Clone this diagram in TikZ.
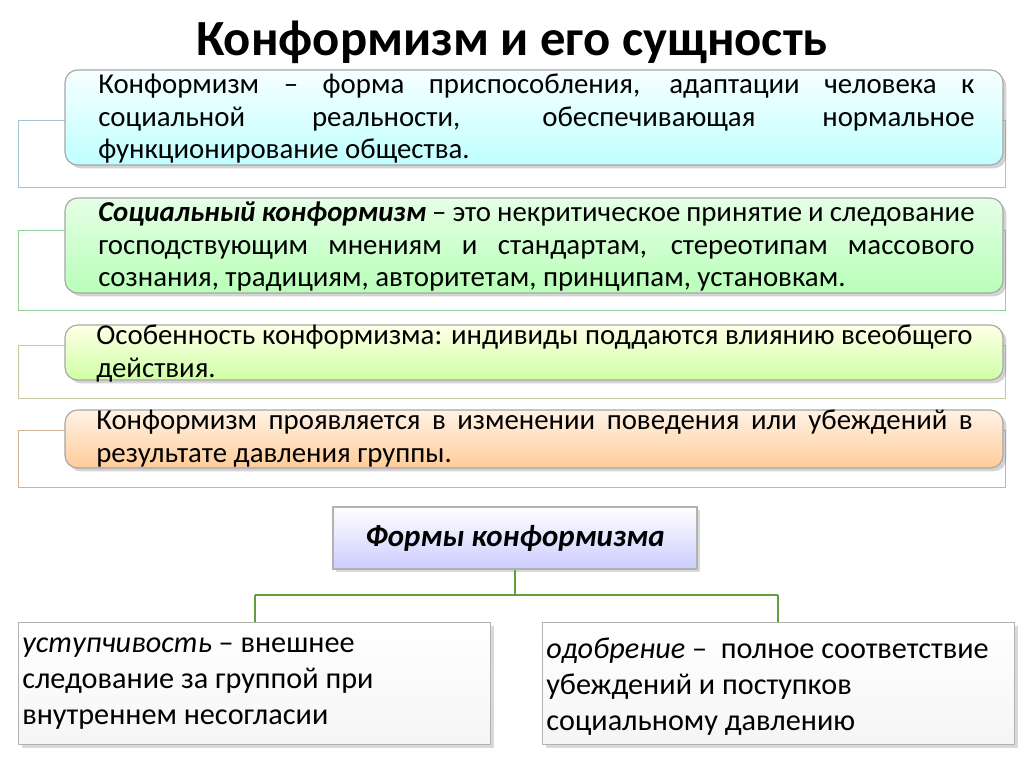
\documentclass[tikz,border=0pt]{standalone}
\usepackage{fontspec}
\setmainfont{Carlito}
\usetikzlibrary{positioning, shadows}
\tikzset{
    x=0.025cm, y=-0.025cm,
    frame/.style={draw=#1, line width=0.6pt}, % thin frame behind each box
    infobox/.style 2 args={rounded corners=9pt, draw=gray!70, line width=0.8pt,
        top color=#1, bottom color=#2, drop shadow={opacity=0.35}},
    infotext/.style={anchor=north west, text width=21.9cm, align=justify, inner sep=0pt,
        font=\fontsize{20.5}{23}\selectfont},
    formbox/.style={draw=gray!60, line width=0.8pt, top color=white, bottom color=green!6!gray!8,
        minimum width=11.8cm, minimum height=3.05cm, anchor=north west, drop shadow={opacity=0.3}},
    formtext/.style={anchor=north west, align=left, inner sep=0pt, font=\fontsize{21.5}{25.5}\selectfont},
    link/.style={draw=green!35!gray!70!olive, line width=1.5pt},
}
\begin{document}
\begin{tikzpicture}
\useasboundingbox (0,0) rectangle (1024,767);
\node[font=\fontsize{36}{40}\bfseries] (title) at (512,42) {Конформизм и его сущность};
% frames
\draw[frame=cyan!40!gray!60] (18,120) rectangle (1005,187);
\draw[frame=green!40!gray!60] (18,230) rectangle (1005,310);
\draw[frame=olive!40!gray!50] (18,345) rectangle (1005,398);
\draw[frame=orange!40!gray!60] (18,430) rectangle (1005,487);
% boxes
\path[infobox={white!80!cyan!15}{cyan!25}] (65,70) rectangle (1003,165);
\node[infotext] (def) at (98,74) {Конформизм – форма приспособления, адаптации человека к\linebreak социальной реальности, обеспечивающая нормальное\linebreak функционирование общества.};
\path[infobox={white!90!green}{green!28}] (65,198) rectangle (1003,293);
\node[infotext] (soc) at (98,202) {\textbf{\textit{Социальный конформизм}} – это некритическое принятие и следование\linebreak господствующим мнениям и стандартам, стереотипам массового\linebreak сознания, традициям, авторитетам, принципам, установкам.};
\path[infobox={white!90!yellow}{yellow!45!green!35}] (65,325) rectangle (1003,380);
\node[infotext] (feat) at (96,325) {Особенность конформизма: индивиды поддаются влиянию всеобщего\linebreak действия.};
\path[infobox={white!90!orange}{orange!40}] (65,410) rectangle (1003,468);
\node[infotext] (show) at (96,410) {Конформизм проявляется в изменении поведения или убеждений в\linebreak результате давления группы.};
% forms
\node[draw=gray!60, line width=0.8pt, top color=white, bottom color=blue!20, drop shadow={opacity=0.3},
      minimum width=9.1cm, minimum height=1.55cm, font=\fontsize{22}{24}\bfseries\itshape] (forms) at (515,538) {Формы конформизма};
\node[formbox] (yield) at (18,622) {};
\node[formbox] (appr) at (542,622) {};
\node[formtext] at (22,638) {\textit{уступчивость} – внешнее\\следование за группой при\\внутреннем несогласии};
\node[formtext] at (546,638) {\textit{одобрение} –\ \ полное соответствие\\убеждений и поступков\\социальному давлению};
\coordinate (hub) at (515,595);
\coordinate (hubL) at (255,595);
\coordinate (hubR) at (778,595);
\draw[link] (forms.south) -- (hub);
\draw[link] (hubL) -- (hubR);
\draw[link] (hubL) -- (hubL |- yield.north);
\draw[link] (hubR) -- (hubR |- appr.north);
\end{tikzpicture}
\end{document}
